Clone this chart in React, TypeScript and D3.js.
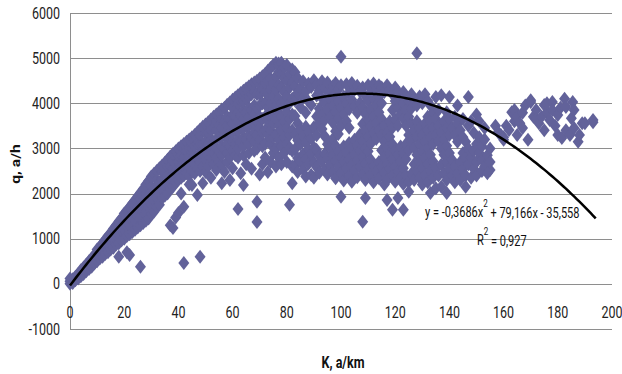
import React from 'react';
import * as d3 from 'd3';

const xTicks = [0, 20, 40, 60, 80, 100, 120, 140, 160, 180, 200];
const yTicks = [-1000, 0, 1000, 2000, 3000, 4000, 5000, 6000];
const trendCoef = [-0.3686, 79.166, -35.558];
const trendEnd = 194;
const eqText = ['y = -0,3686x', '2', ' + 79,166x - 35,558'];
const r2Text = ['R', '2', ' = 0,927'];
const xTitle = 'K, a/km';
const yTitle = 'q, a/h';

// columns of the dense rising band: [K, q values]
const denseBand: [number, number[]][] = [
  [0, [0, 60, 120]], [1, [20, 100]], [2, [80, 160]], [3, [120, 220]], [4, [170, 300]],
  [5, [220, 360]], [6, [280, 430]], [7, [330, 500]], [8, [380, 570]], [9, [450, 640]],
  [10, [500, 700, 760]], [11, [560, 820]], [12, [600, 760, 900]], [13, [660, 980]],
  [14, [700, 880, 1060]], [15, [760, 950, 1120]], [16, [800, 1000, 1220]], [17, [870, 1080, 1290]],
  [18, [600, 900, 1100, 1300, 1380]], [19, [960, 1180, 1450]], [20, [1000, 1200, 1380, 1560]],
  [21, [700, 1060, 1280, 1620]], [22, [640, 1100, 1300, 1500, 1700]], [23, [1150, 1400, 1780]],
  [24, [1200, 1400, 1600, 1860]], [25, [1250, 1500, 1700, 1940]], [26, [380, 1300, 1500, 1700, 1880, 2020]],
  [27, [1350, 1600, 1850, 2100]], [28, [1400, 1600, 1800, 2000, 2200]], [29, [1450, 1700, 1950, 2280]],
  [30, [1550, 1750, 1950, 2150, 2380]], [31, [1600, 1850, 2100, 2440]], [32, [1700, 1900, 2100, 2300, 2500]],
  [33, [1750, 2000, 2250, 2560]], [34, [1900, 2100, 2300, 2480, 2620]], [35, [1950, 2200, 2450, 2680]],
  [36, [2000, 2200, 2400, 2600, 2750]], [37, [1300, 2100, 2350, 2600, 2820]],
  [38, [1240, 2150, 2350, 2550, 2720, 2880]], [39, [1470, 2250, 2500, 2940]],
  [40, [1570, 2300, 2500, 2700, 2850, 3000]], [41, [2000, 2350, 2600, 2850, 3050]],
  [42, [460, 1710, 2400, 2600, 2800, 3000, 3100]], [43, [2450, 2700, 2950, 3150]],
  [44, [2200, 2400, 2600, 2800, 3000, 3200]], [45, [2190, 2500, 2750, 3000, 3250]],
  [46, [2450, 2650, 2850, 3050, 3300]], [47, [1970, 2550, 2800, 3100, 3360]],
  [48, [600, 2500, 2700, 2900, 3100, 3300, 3420]], [49, [2230, 2600, 2850, 3100, 3480]],
  [50, [2480, 2750, 2950, 3150, 3350, 3530]], [51, [2600, 2850, 3100, 3350, 3580]],
  [52, [2350, 2800, 3000, 3200, 3400, 3640]], [53, [2650, 2900, 3150, 3450, 3700]],
  [54, [2520, 2800, 3000, 3200, 3400, 3600, 3750]], [55, [2700, 2950, 3250, 3500, 3800]],
  [56, [2230, 2650, 2850, 3050, 3250, 3450, 3650, 3860]], [57, [2480, 3000, 3300, 3600, 3900]],
  [58, [2700, 2900, 3100, 3300, 3500, 3700, 3970]], [59, [2300, 2800, 3050, 3350, 3650, 4020]],
  [60, [2560, 2950, 3150, 3350, 3550, 3750, 3900, 4080]], [61, [2850, 3100, 3400, 3700, 4130]],
  [62, [1660, 2800, 3000, 3200, 3400, 3600, 3800, 4000, 4180]], [63, [2450, 3150, 3450, 3750, 4050, 4230]],
  [64, [2190, 2850, 3050, 3250, 3450, 3650, 3850, 4050, 4280]], [65, [2650, 3200, 3500, 3800, 4100, 4330]],
  [66, [2900, 3100, 3300, 3500, 3700, 3900, 4150, 4370]], [67, [2550, 3250, 3550, 3850, 4200, 4420]],
  [68, [2950, 3150, 3350, 3550, 3750, 3950, 4250, 4460]], [69, [1370, 1820, 3000, 3300, 3600, 3900, 4200, 4500]],
  [70, [2420, 3200, 3450, 3700, 3950, 4200, 4400, 4550]], [71, [2650, 3050, 3350, 3650, 4000, 4300, 4600]],
  [72, [2800, 3100, 3400, 3700, 4000, 4250, 4450, 4650]], [73, [2480, 3300, 3600, 3900, 4200, 4500, 4720]],
  [74, [2700, 3100, 3400, 3700, 4000, 4300, 4550, 4780]], [75, [2900, 3250, 3550, 3850, 4150, 4450, 4850]],
  [76, [2600, 3000, 3300, 3650, 3950, 4300, 4600, 4900]], [77, [2800, 3200, 3500, 3800, 4100, 4400, 4700, 4880]],
  [78, [2650, 3050, 3400, 3700, 4000, 4350, 4650, 4900]], [79, [2900, 3250, 3600, 3950, 4250, 4550, 4800]],
  [80, [2700, 3100, 3450, 3800, 4150, 4500, 4850]], [81, [1750, 3000, 3300, 3650, 4000, 4350, 4650]],
  [82, [2230, 2600, 2950, 3400, 3750, 4100, 4450, 4750]],
];

// columns of the wide scattered cloud past the peak
const cloudBand: [number, number[]][] = [
  [83, [2620, 2980, 3310, 3720, 4060, 4380, 4690]], [84, [2480, 2790, 3180, 3560, 4230, 4560]],
  [85, [2710, 3090, 3420, 3910, 4330]], [86, [2530, 2870, 3270, 4120, 4490]],
  [87, [2380, 2760, 3130, 3480, 3790, 4260]], [88, [2660, 2990, 3370, 4040, 4430]],
  [89, [2410, 2880, 3220, 3960, 4360]], [90, [2350, 2690, 3020, 3470, 4510]],
  [91, [2590, 2970, 3290, 3710, 4170, 4410]], [92, [2460, 2830, 3560, 3880, 4280]],
  [93, [2720, 3430, 3740, 4110, 4490]], [94, [2520, 2880, 3270, 3630, 4010, 4340]],
  [95, [2420, 2770, 3090, 3860, 4260, 4460]], [96, [2640, 3020, 3690, 4090]],
  [97, [2480, 2840, 3210, 3570, 3940, 4370]], [98, [2340, 2720, 3060, 3380, 3810, 4210, 4450]],
  [99, [2610, 2930, 3320, 3670, 4040, 4310]], [100, [1930, 2450, 2800, 3500, 3900, 4400, 5030]],
  [101, [2290, 2710, 3040, 3760, 4150]], [102, [2560, 2910, 3610, 3990, 4420]],
  [103, [2390, 2760, 3120, 3460, 3870, 4240]], [104, [2260, 2640, 3010, 4080, 4450]],
  [105, [2510, 2860, 3190, 3940, 4300]], [106, [2360, 2740, 3060, 3790, 4390]],
  [107, [2600, 2950, 3310, 4010, 4260]], [108, [1375, 2430, 2810, 3160, 3540, 3910, 4350]],
  [109, [1900, 2300, 2660, 3000, 3390, 3760, 4160]], [110, [2540, 2940, 3260, 3640, 4050, 4400]],
  [111, [2410, 2750, 3110, 3490, 3860, 4240]], [112, [2250, 2610, 3350, 3710, 4100, 4440]],
  [113, [2490, 3210, 3560, 3950, 4300]], [114, [2340, 2700, 3400, 3800, 4150, 4400]],
  [115, [2590, 2960, 3290, 3660, 4000, 4350]], [116, [2200, 2460, 2810, 3150, 3510, 4250]],
  [117, [1860, 2300, 2650, 3010, 3350, 4400]], [118, [2550, 2890, 3260, 3600, 4300]],
  [119, [1640, 2400, 2760, 3090, 3460, 3850, 4200]], [120, [2260, 2600, 2950, 3640, 4050, 4350]],
  [121, [1900, 2490, 2860, 3510, 3900, 4260]], [122, [2350, 2710, 3040, 3750, 4100]],
  [123, [1640, 2210, 2560, 2900, 3660, 4000, 4250]], [124, [2400, 2760, 3100, 3500, 3850, 4150]],
  [125, [2040, 2260, 2960, 3300, 3700, 4050]], [126, [2440, 3160, 3550, 3890, 4200]],
  [127, [2300, 2650, 3010, 3400, 4100]], [128, [2500, 2860, 3250, 3600, 3950, 5110]],
  [129, [2350, 2700, 3090, 3450, 4150]], [130, [2200, 2560, 2940, 3300, 4000]],
  [131, [2400, 2790, 3150, 3550, 4200]], [132, [2250, 2650, 3010, 3400, 3700, 4050]],
  [133, [2010, 2500, 2860, 3240, 3600, 3950]], [134, [2350, 2710, 3100, 3450, 3800]],
  [135, [2120, 2560, 3300, 3650, 4140]], [136, [2400, 3160, 3500, 3850]],
  [137, [2150, 2640, 3000, 3350, 4180]], [138, [2450, 2860, 3200, 3600]],
  [139, [2010, 2300, 2700, 3060, 3450, 3800]], [140, [2550, 2900, 3300, 3650, 4140]],
  [141, [2400, 2750, 3450]], [142, [2250, 2600, 3300, 3700]],
  [143, [2450, 3150, 3550, 3950]], [144, [2300, 2700, 3400]],
  [145, [2550, 2900, 3250, 3650]], [146, [2150, 2400, 2800, 3150]],
  [147, [2650, 3000, 3500, 4140]], [148, [2350, 2800, 3600]],
  [149, [2550, 2950, 3350]], [150, [2400, 2700, 3100, 3750]],
  [151, [2900, 3250, 3600]], [152, [2500, 2750, 3050]],
  [153, [2600, 3200, 3450]], [154, [2450, 2850]], [155, [2520, 2700, 3000]],
];

// separate cluster at high density
const rightCluster: [number, number][] = [
  [157, 3500], [158, 3360], [159, 3300], [160, 3190], [160, 3250], [161, 3500], [162, 3410],
  [163, 3800], [164, 3850], [164, 3600], [165, 3300], [165, 3700], [166, 3560], [167, 3790],
  [167, 3450], [168, 3950], [169, 3190], [170, 4030], [170, 4070], [171, 3700], [172, 3850],
  [172, 3650], [173, 3560], [174, 3700], [175, 3960], [175, 3400], [176, 3800], [176, 4000],
  [177, 3630], [178, 4030], [178, 3850], [179, 3500], [180, 3740], [180, 3300], [181, 3900],
  [181.5, 3230], [182.5, 4100], [183, 3920], [183, 3400], [184.5, 3300], [185, 3670],
  [185.5, 4030], [186, 3450], [186, 3850], [187.5, 3150], [188, 3300], [189, 3560], [190, 3560],
  [193, 3580], [193, 3630],
];

const W = 622;
const H = 374;
const dotColor = '#62629a';
const font = 'Roboto, "DejaVu Sans", sans-serif';

export default function App() {
  const x = d3.scaleLinear().domain([0, 200]).range([70, 612]);
  const y = d3.scaleLinear().domain([-1000, 6000]).range([329, 13]);

  const points: [number, number][] = [];
  denseBand.forEach(([k, qs]) => qs.forEach((q) => points.push([k, q])));
  cloudBand.forEach(([k, qs]) => qs.forEach((q) => points.push([k, q])));
  rightCluster.forEach((p) => points.push(p));

  const diamond = 'M0,-7L5.5,0L0,7L-5.5,0Z';
  const trendData = d3.range(0, trendEnd + 0.5, 1);
  const line = d3
    .line<number>()
    .x((k) => x(k))
    .y((k) => y(trendCoef[0] * k * k + trendCoef[1] * k + trendCoef[2]))
    .curve(d3.curveMonotoneX);

  return (
    <svg width={W} height={H} style={{ position: 'absolute', left: 0, top: 0, background: '#fff' }} fontFamily={font}>
      <rect width={W} height={H} fill="#fff" />
      {yTicks.map((t) => (
        <line key={t} x1={x(0)} x2={x(200)} y1={Math.round(y(t)) + 0.5} y2={Math.round(y(t)) + 0.5} stroke="#8e8e8e" strokeWidth={1} />
      ))}
      <line x1={x(0) + 0.5} x2={x(0) + 0.5} y1={y(6000)} y2={y(-1000)} stroke="#8e8e8e" strokeWidth={1} />
      {yTicks.map((t) => (
        <g key={t} transform={`translate(60,${y(t)}) scale(1,1.25)`}>
          <text textAnchor="end" dominantBaseline="central" fontSize={12.5} fill="#222">{t}</text>
        </g>
      ))}
      {xTicks.map((t) => (
        <g key={t} transform={`translate(${x(t)},312) scale(1,1.25)`}>
          <text textAnchor="middle" dominantBaseline="central" fontSize={12.5} fill="#222">{t}</text>
        </g>
      ))}
      {points.map(([k, q], i) => (
        <path key={i} d={diamond} transform={`translate(${x(k)},${y(q)})`} fill={dotColor} />
      ))}
      <path d={line(trendData) || ''} fill="none" stroke="#000" strokeWidth={2.5} />
      <g transform="translate(425,212) scale(1,1.25)">
        <text dominantBaseline="central" fontSize={11} fill="#111">
          {eqText[0]}
          <tspan fontSize={8} dy={-7}>{eqText[1]}</tspan>
          <tspan dy={7}>{eqText[2]}</tspan>
        </text>
      </g>
      <g transform="translate(477,240) scale(1,1.25)">
        <text dominantBaseline="central" fontSize={11} fill="#111">
          {r2Text[0]}
          <tspan fontSize={8} dy={-7}>{r2Text[1]}</tspan>
          <tspan dy={7}>{r2Text[2]}</tspan>
        </text>
      </g>
      <g transform="translate(343,362) scale(1,1.25)">
        <text textAnchor="middle" dominantBaseline="central" fontSize={12.5} fontWeight="bold" fill="#111">{xTitle}</text>
      </g>
      <g transform="translate(16,164) rotate(-90) scale(1.25,1)">
        <text textAnchor="middle" dominantBaseline="central" fontSize={12.5} fontWeight="bold" fill="#111">{yTitle}</text>
      </g>
    </svg>
  );
}
